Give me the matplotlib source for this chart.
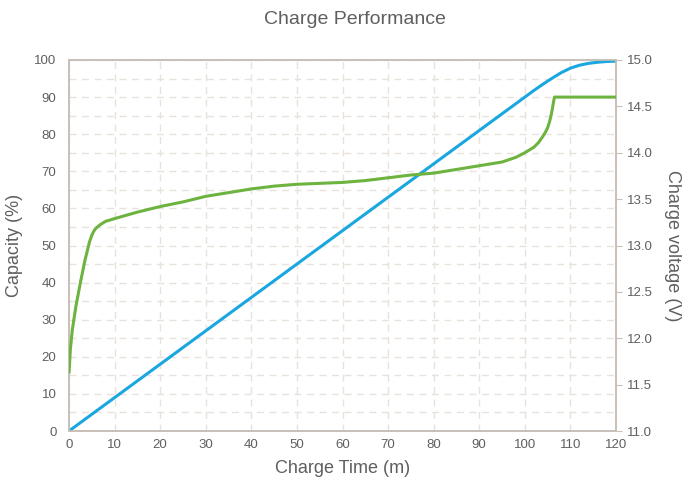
import matplotlib
matplotlib.use("Agg")
import matplotlib.pyplot as plt
from matplotlib.ticker import MultipleLocator

plt.rcParams['font.family'] = ['Liberation Sans', 'DejaVu Sans']

# Capacity (%) vs charge time (m) -- left axis
cap_time = [0, 20, 40, 60, 80, 100, 102, 104, 106, 108, 110, 112, 114, 116, 118, 120]
cap_vals = [0, 18, 36, 54, 72, 90, 91.8, 93.5, 95.1, 96.6, 97.8, 98.6, 99.1, 99.4, 99.6, 99.7]

# Charge voltage (V) vs charge time (m) -- right axis
volt_time = [0, 0.3, 0.7, 1, 1.5, 2, 2.5, 3, 3.5, 4, 4.5, 5, 5.5, 6, 7, 8, 10,
             15, 20, 25, 30, 35, 40, 45, 50, 55, 60, 65, 70, 75, 80, 85, 90, 95,
             98, 100, 101, 102, 103, 104, 104.5, 105, 105.4, 105.8, 106.1, 106.3,
             106.5, 120]
volt_vals = [11.62, 11.88, 12.08, 12.18, 12.34, 12.47, 12.60, 12.72, 12.84, 12.94,
             13.04, 13.11, 13.16, 13.19, 13.23, 13.26, 13.29, 13.36, 13.42, 13.47,
             13.53, 13.57, 13.61, 13.64, 13.66, 13.67, 13.68, 13.70, 13.73, 13.76,
             13.78, 13.82, 13.86, 13.90, 13.95, 14.00, 14.03, 14.06, 14.11, 14.18,
             14.22, 14.27, 14.33, 14.41, 14.49, 14.55, 14.60, 14.60]

x_ticks = list(range(0, 121, 10))
cap_ticks = list(range(0, 101, 10))
volt_ticks = [11.0, 11.5, 12.0, 12.5, 13.0, 13.5, 14.0, 14.5, 15.0]

BLUE = '#1aa7e0'
GREEN = '#6db33f'
SPINE = '#c8c0b8'
GRID = '#e8e2dc'
TXT = '#5f5f5f'

fig = plt.figure(figsize=(6.98, 4.84), dpi=100)
ax = fig.add_axes([69/698, 1-431/484, (616-69)/698, (431-60)/484])
ax2 = ax.twinx()

ax.set_xlim(0, 120)
ax.set_ylim(0, 100)
ax2.set_ylim(11.0, 15.0)

ax.set_xticks(x_ticks)
ax.set_yticks(cap_ticks)
ax.yaxis.set_minor_locator(MultipleLocator(5))
ax2.set_yticks(volt_ticks)
ax2.set_yticklabels([f"{v:.1f}" for v in volt_ticks])

ax.grid(True, which='major', axis='x', color=GRID, linestyle=(0, (5, 4)), linewidth=1)
ax.grid(True, which='both', axis='y', color=GRID, linestyle=(0, (5, 4)), linewidth=1)
ax.set_axisbelow(True)

for a in (ax, ax2):
    for s in a.spines.values():
        s.set_color(SPINE)
        s.set_linewidth(1.2)

ax.tick_params(axis='both', which='both', length=0, colors=TXT, labelsize=9.5, pad=6)
ax.tick_params(axis='y', pad=9)
ax2.tick_params(axis='y', length=4, color=SPINE, colors=TXT, labelsize=9.5, pad=4)

ax.plot(cap_time, cap_vals, color=BLUE, linewidth=2.2, solid_capstyle='butt', zorder=3)
ax2.plot(volt_time, volt_vals, color=GREEN, linewidth=2.2, solid_capstyle='butt', zorder=3)
ax2.patch.set_visible(False)

ax.set_xlabel('Charge Time (m)', fontsize=13, color=TXT, labelpad=6)
ax.set_ylabel('Capacity (%)', fontsize=13, color=TXT, labelpad=8)
ax2.set_ylabel('Charge voltage (V)', fontsize=13, color=TXT, rotation=270, labelpad=20)

fig.text(355/698, 1-20/484, 'Charge Performance', ha='center', va='center',
         fontsize=14, color=TXT)

fig.savefig('out.png', dpi=100)
